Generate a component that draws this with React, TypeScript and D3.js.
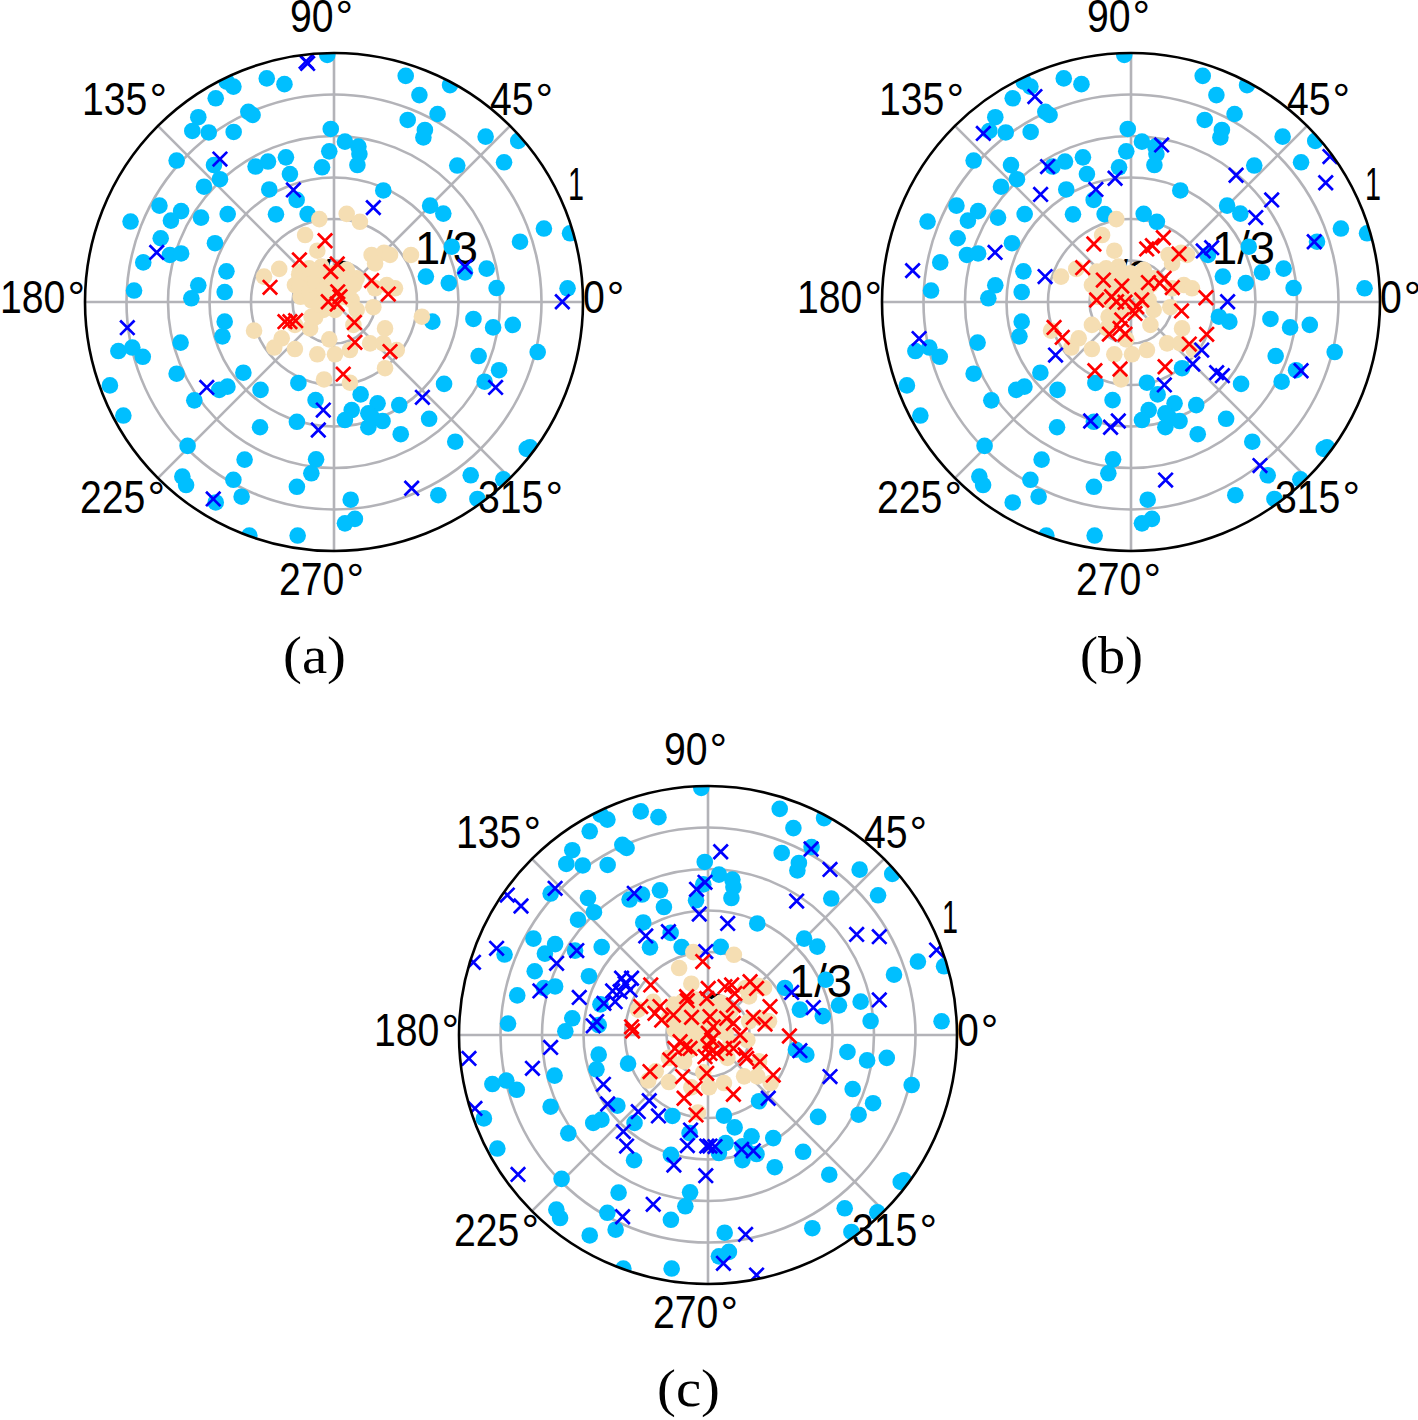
import React from 'react';
import * as d3 from 'd3';

type Pt = [number, number];

// points, as (x, y) inside the unit disc
const skyPoints: Pt[] = [
  [-0.027, 0.992], [-0.27, 0.898], [-0.199, 0.875], [-0.404, 0.865], [-0.431, 0.885], [-0.475, 0.818],
  [-0.344, 0.764], [-0.327, 0.751], [-0.545, 0.742], [-0.569, 0.687], [-0.503, 0.681], [-0.403, 0.683], [-0.632, 0.568],
  [-0.482, 0.55], [-0.458, 0.493], [-0.522, 0.463], [-0.315, 0.544], [-0.265, 0.564], [-0.193, 0.581], [-0.177, 0.514],
  [-0.26, 0.452], [-0.15, 0.41], [-0.233, 0.352], [-0.106, 0.353], [-0.048, 0.541], [-0.019, 0.605], [-0.013, 0.695],
  [-0.701, 0.387], [-0.614, 0.365], [-0.655, 0.327], [-0.534, 0.339], [-0.427, 0.353], [-0.817, 0.323], [-0.696, 0.256],
  [-0.659, 0.189], [-0.614, 0.195], [-0.766, 0.159], [-0.478, 0.236], [-0.432, 0.123], [-0.545, 0.067], [-0.573, 0.015],
  [-0.439, 0.04], [-0.803, 0.046],
  [0.288, 0.908], [0.343, 0.831], [0.466, 0.871], [0.416, 0.755], [0.296, 0.731], [0.365, 0.691], [0.359, 0.661],
  [0.609, 0.664], [0.74, 0.647], [0.683, 0.561], [0.495, 0.548], [0.044, 0.644], [0.098, 0.624], [0.102, 0.594],
  [0.094, 0.55], [0.198, 0.448], [0.386, 0.387], [0.439, 0.355], [0.473, 0.222], [0.843, 0.295], [0.747, 0.242],
  [0.948, 0.276], [0.369, 0.102], [0.461, 0.076], [0.526, 0.119], [0.613, 0.134], [0.653, 0.056], [0.938, 0.055],
  [-0.439, -0.079], [-0.448, -0.138], [-0.616, -0.163], [-0.866, -0.197], [-0.81, -0.183], [-0.768, -0.22], [-0.9, -0.335],
  [-0.846, -0.456], [-0.632, -0.288], [-0.364, -0.284], [-0.295, -0.353], [-0.428, -0.34], [-0.461, -0.353], [-0.561, -0.395],
  [-0.143, -0.325], [-0.074, -0.394], [-0.149, -0.481], [-0.297, -0.503], [-0.588, -0.578], [-0.359, -0.633], [-0.072, -0.632],
  [-0.091, -0.688], [-0.404, -0.714], [-0.609, -0.701], [-0.594, -0.735], [-0.371, -0.782], [-0.149, -0.742], [-0.475, -0.805],
  [-0.34, -0.938], [-0.146, -0.938],
  [0.395, -0.079], [0.56, -0.068], [0.639, -0.102], [0.718, -0.092], [0.818, -0.201], [0.581, -0.217], [0.663, -0.274],
  [0.605, -0.32], [0.442, -0.329], [0.107, -0.371], [0.071, -0.434], [0.044, -0.474], [0.262, -0.414], [0.175, -0.407],
  [0.138, -0.447], [0.151, -0.461], [0.195, -0.478], [0.138, -0.503], [0.268, -0.531], [0.382, -0.469], [0.487, -0.561],
  [0.549, -0.696], [0.787, -0.584], [0.774, -0.59], [0.68, -0.712], [0.576, -0.791], [0.419, -0.776], [0.067, -0.794],
  [0.084, -0.871], [0.044, -0.889],
];

const tanPoints: Pt[] = [
  [-0.059, 0.333], [-0.116, 0.269], [-0.067, 0.206], [0.151, 0.189], [0.201, 0.198], [0.225, 0.189], [0.165, 0.155],
  [-0.281, 0.102], [-0.22, 0.133], [-0.157, 0.068], [-0.137, 0.122], [-0.134, 0.021], [-0.103, 0.088], [-0.07, 0.122],
  [-0.05, 0.142], [-0.063, 0.035], [-0.036, 0.088], [-0.003, 0.115], [0.051, 0.129], [0.091, 0.095], [0.071, 0.008],
  [0.091, -0.032], [0.158, -0.021], [0.165, 0.055], [0.212, 0.068], [0.245, 0.055], [-0.21, -0.146], [-0.24, -0.183],
  [-0.157, -0.189], [-0.096, -0.106], [-0.076, -0.062], [-0.043, -0.032], [0.004, -0.032], [-0.157, -0.092], [-0.067, -0.21],
  [-0.019, -0.15], [0.004, -0.21], [0.064, -0.193], [0.078, -0.092], [0.145, -0.166], [0.198, -0.166], [0.205, -0.106],
  [0.252, -0.193], [-0.04, -0.311], [-0.09, -0.059], [-0.029, 0.008], [0.024, 0.048],
  // the dense middle of the cloud
  [-0.14, 0.11], [-0.14, 0.06], [-0.1, 0.135], [-0.1, 0.04], [-0.075, 0.08], [-0.04, 0.12], [-0.04, 0.05], [-0.01, 0.075],
  [0.015, 0.11], [0.03, 0.08], [0.06, 0.105], [0.06, 0.05], [0.08, 0.07], [0.045, 0.02], [-0.09, 0.005], [-0.06, -0.01],
];

// these few points change colour from one panel to the next
const tanOnlyA: Pt[] = [[0.309, 0.189], [0.353, -0.059], [0.051, 0.354], [0.205, -0.266], [0.064, -0.324]];
const tanAC: Pt[] = [[0.104, 0.322]];
const tanAB: Pt[] = [[-0.321, -0.115]];

const blueA: Pt[] = [
  [-0.106, 0.958], [-0.112, 0.966], [-0.458, 0.574], [-0.163, 0.45], [-0.712, 0.199], [0.158, 0.379], [0.526, 0.142],
  [0.917, 0.001], [-0.83, -0.103], [-0.511, -0.343], [-0.043, -0.434], [-0.063, -0.514], [-0.485, -0.791], [0.355, -0.383],
  [0.649, -0.343], [0.312, -0.748],
];
const redA: Pt[] = [
  [-0.036, 0.246], [-0.139, 0.169], [0.013, 0.153], [-0.013, 0.122], [-0.257, 0.059], [0.151, 0.086], [0.218, 0.032],
  [0.015, 0.041], [-0.023, 0.001], [0.024, 0.021], [0.013, -0.008], [-0.197, -0.079], [-0.177, -0.079], [-0.154, -0.075],
  [0.082, -0.082], [0.084, -0.162], [0.225, -0.199], [0.037, -0.29],
];

const blueB: Pt[] = [
  [-0.386, 0.825], [-0.593, 0.677], [0.123, 0.631], [-0.335, 0.544], [-0.064, 0.497], [-0.141, 0.452], [-0.363, 0.432],
  [0.422, 0.509], [0.565, 0.41], [0.501, 0.339], [0.799, 0.584], [0.782, 0.479], [0.736, 0.242], [-0.546, 0.199],
  [-0.877, 0.126], [0.29, 0.205], [0.324, 0.218], [-0.345, 0.102], [0.388, 0.001], [-0.851, -0.147], [-0.303, -0.213],
  [0.284, -0.193], [0.248, -0.249], [0.344, -0.284], [0.367, -0.296], [0.683, -0.276], [0.134, -0.333], [-0.162, -0.478],
  [-0.051, -0.478], [-0.082, -0.503], [0.518, -0.657], [0.139, -0.715],
];
const redB: Pt[] = [
  [0.13, 0.258], [0.063, 0.213], [0.086, 0.226], [0.193, 0.193], [-0.149, 0.233], [-0.194, 0.138], [-0.111, 0.088],
  [0.133, 0.095], [0.116, 0.075], [0.07, 0.078], [0.166, 0.058], [0.301, 0.017], [-0.037, 0.064], [-0.138, 0.008],
  [-0.078, 0.021], [-0.058, 0.001], [-0.024, -0.001], [0.043, 0.008], [0.023, -0.019], [0.016, -0.046], [0.203, -0.036],
  [-0.037, -0.072], [-0.044, -0.106], [-0.087, -0.129], [-0.024, -0.129], [-0.309, -0.102], [-0.276, -0.142], [0.304, -0.13],
  [0.234, -0.169], [-0.145, -0.276], [-0.044, -0.269], [0.137, -0.26],
];

const blueC: Pt[] = [
  [-0.614, 0.589], [-0.806, 0.562], [-0.751, 0.518], [-0.296, 0.569], [-0.046, 0.585], [-0.012, 0.613], [-0.035, 0.486],
  [0.051, 0.736], [-0.25, 0.398], [-0.159, 0.415], [-0.009, 0.335], [-0.849, 0.348], [-0.942, 0.292], [-0.527, 0.339],
  [-0.608, 0.288], [-0.675, 0.177], [-0.517, 0.151], [-0.347, 0.228], [-0.307, 0.228], [-0.333, 0.207], [-0.313, 0.181],
  [-0.353, 0.174], [-0.383, 0.177], [-0.373, 0.134], [-0.418, 0.127], [-0.447, 0.054], [-0.461, 0.037],
  [-0.96, -0.094], [-0.632, -0.05], [-0.705, -0.134], [-0.42, -0.198], [-0.403, -0.277], [-0.936, -0.295], [-0.236, -0.264],
  [-0.28, -0.308], [-0.199, -0.325], [-0.34, -0.388], [-0.327, -0.446], [-0.07, -0.382], [-0.083, -0.444], [-0.005, -0.446],
  [0.028, -0.448], [-0.137, -0.522], [-0.009, -0.565], [-0.763, -0.56], [-0.22, -0.68], [-0.343, -0.73],
  [0.414, 0.747], [0.49, 0.665], [0.356, 0.538], [0.079, 0.448], [0.597, 0.404], [0.688, 0.395], [0.918, 0.341],
  [0.688, 0.141], [0.336, 0.171], [0.423, 0.11], [0.369, -0.063], [0.49, -0.167], [0.242, -0.254], [0.008, -0.446],
  [0.135, -0.459], [0.182, -0.465], [0.151, -0.801], [0.062, -0.917], [0.195, -0.964],
];
const redC: Pt[] = [
  [-0.021, 0.295], [-0.23, 0.201], [-0.086, 0.154], [-0.083, 0.138], [0.001, 0.187], [-0.005, 0.147], [0.068, 0.194],
  [0.095, 0.201], [0.108, 0.167], [0.169, 0.214], [0.195, 0.187], [-0.27, 0.114], [-0.193, 0.114], [-0.213, 0.087],
  [-0.186, 0.06], [-0.139, 0.08], [-0.066, 0.071], [0.102, 0.12], [0.249, 0.114], [0.182, 0.071], [0.229, 0.044],
  [-0.307, 0.033], [-0.303, 0.016], [0.008, 0.074], [0.075, 0.067], [0.102, 0.047], [0.021, 0.033], [0.129, 0],
  [0.001, 0.007], [0.015, -0.02], [0.001, -0.047], [0.008, -0.074], [0.035, -0.074], [-0.012, -0.087], [0.327, -0.004],
  [-0.112, -0.027], [-0.092, -0.047], [-0.133, -0.054], [-0.072, -0.054], [0.068, -0.054], [0.102, -0.054], [0.149, -0.08],
  [0.155, -0.094], [-0.153, -0.1], [0.209, -0.107], [-0.233, -0.147], [-0.005, -0.154], [-0.102, -0.167], [0.262, -0.161],
  [-0.052, -0.214], [-0.096, -0.254], [0.102, -0.238], [-0.048, -0.321],
];

const ringValues = [1 / 6, 2 / 6, 3 / 6, 4 / 6, 5 / 6, 1];
const spokeAngles = [0, 45, 90, 135];
const angleLabels = ['90', '45', '0', '315', '270', '225', '180', '135'];
const radialLabels = ['1', '1/3', '1/9'];

const RADIUS = 249;
const FONT = '"Liberation Sans", Arial, sans-serif';

// left edge and baseline of each angle label, from the panel centre
const angleOffsets = [[-44, -270], [156, -187], [249, 11], [144, 211], [-55, 293], [-254, 211], [-334, 11], [-252, -187]];
const radialOffsets = [[234, -102], [81, -38], [-38, -9]];

const crossPath = 'M-7.2,-7.2L7.2,7.2M-7.2,7.2L7.2,-7.2';

interface PanelProps {
  id: string;
  cx: number;
  cy: number;
  caption: string;
  sky: Pt[];
  tan: Pt[];
  blue: Pt[];
  red: Pt[];
}

function Panel({ id, cx, cy, caption, sky, tan, blue, red }: PanelProps) {
  const x = d3.scaleLinear().domain([-1, 1]).range([cx - RADIUS, cx + RADIUS]);
  const y = d3.scaleLinear().domain([-1, 1]).range([cy + RADIUS, cy - RADIUS]);
  const r = d3.scaleLinear().domain([0, 1]).range([0, RADIUS]);
  const clip = `clip-${id}`;

  return (
    <g>
      <clipPath id={clip}>
        <circle cx={cx} cy={cy} r={RADIUS} />
      </clipPath>

      {ringValues.slice(0, -1).map(v => (
        <circle key={v} cx={cx} cy={cy} r={r(v)} fill="none" stroke="#b3b3b8" strokeWidth={2.6} />
      ))}
      {spokeAngles.map(a => {
        const t = (a * Math.PI) / 180;
        return (
          <line key={a} x1={x(-Math.cos(t))} y1={y(-Math.sin(t))} x2={x(Math.cos(t))} y2={y(Math.sin(t))}
            stroke="#b3b3b8" strokeWidth={2.6} />
        );
      })}

      {radialLabels.map((label, i) => (
        <text key={label} x={cx + radialOffsets[i][0]} y={cy + radialOffsets[i][1]} fontFamily={FONT} fontSize={47}
          textLength={label.length === 1 ? 16 : i === 1 ? 63 : 58} lengthAdjust="spacingAndGlyphs" fill="#000">
          {label}
        </text>
      ))}

      <g clipPath={`url(#${clip})`}>
        {sky.map((d, i) => <circle key={i} cx={x(d[0])} cy={y(d[1])} r={8.3} fill="#00bfff" />)}
        {tan.map((d, i) => <circle key={i} cx={x(d[0])} cy={y(d[1])} r={8.3} fill="#f5deb3" />)}
        {blue.map((d, i) => (
          <path key={i} d={crossPath} transform={`translate(${x(d[0])},${y(d[1])})`} fill="none" stroke="#0000ff" strokeWidth={2.7} />
        ))}
        {red.map((d, i) => (
          <path key={i} d={crossPath} transform={`translate(${x(d[0])},${y(d[1])})`} fill="none" stroke="#ff0000" strokeWidth={2.7} />
        ))}
      </g>

      <circle cx={cx} cy={cy} r={RADIUS} fill="none" stroke="#000" strokeWidth={2.6} />

      {angleLabels.map((label, i) => {
        const w = label.length * 21.8;
        const lx = cx + angleOffsets[i][0];
        const ly = cy + angleOffsets[i][1];
        return (
          <g key={label} fontFamily={FONT} fontSize={47} fill="#000">
            <text x={lx} y={ly} textLength={w} lengthAdjust="spacingAndGlyphs">{label}</text>
            <text x={lx + w + 2} y={ly} fontSize={44}>°</text>
          </g>
        );
      })}

      <text x={cx - 51} y={cy + 371} fontFamily='"Liberation Serif", serif' fontSize={52}
        textLength={63} lengthAdjust="spacingAndGlyphs" fill="#000">
        {caption}
      </text>
    </g>
  );
}

export default function App() {
  return (
    <svg width={1418} height={1420} style={{ position: 'absolute', left: 0, top: 0, background: '#fff' }}>
      <Panel id="a" cx={334} cy={302} caption="(a)" sky={skyPoints}
        tan={[...tanPoints, ...tanOnlyA, ...tanAC, ...tanAB]} blue={blueA} red={redA} />
      <Panel id="b" cx={1131} cy={302} caption="(b)" sky={[...skyPoints, ...tanOnlyA, ...tanAC]}
        tan={[...tanPoints, ...tanAB]} blue={blueB} red={redB} />
      <Panel id="c" cx={708} cy={1035} caption="(c)" sky={[...skyPoints, ...tanOnlyA, ...tanAB]}
        tan={[...tanPoints, ...tanAC]} blue={blueC} red={redC} />
    </svg>
  );
}
